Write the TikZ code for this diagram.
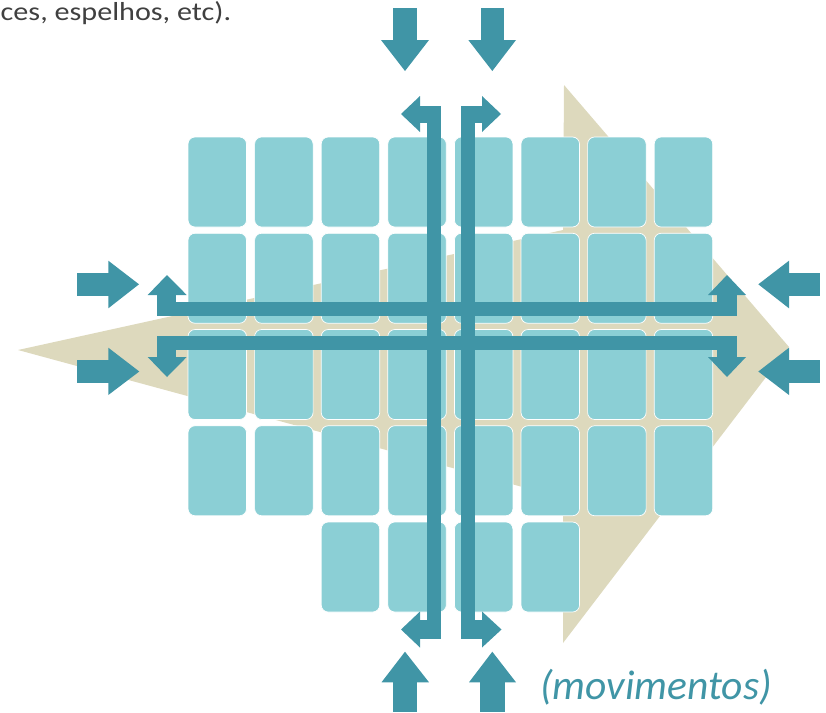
\documentclass[tikz,border=0pt]{standalone}
\usepackage{fontspec}
\setmainfont{Carlito}
\definecolor{beigec}{HTML}{DDD9BD}
\definecolor{tilec}{HTML}{8BCFD5}
\definecolor{barc}{HTML}{4095A6}
\definecolor{txtc}{HTML}{404040}
\begin{document}
\begin{tikzpicture}[x=1pt,y=-1pt,
  tilebox/.style={fill=tilec, draw=white, line width=0.7pt, rounded corners=7pt},
  barshape/.style={fill=barc, draw=none},
  bgarrow/.style={fill=beigec, draw=none}]
\useasboundingbox (0,0) rectangle (826,712);
\clip (0,0) rectangle (826,712);
% background arrow
\fill[bgarrow] (18,350) -- (563,230) -- (564,85) -- (789,347) -- (563,643) -- (563,498) -- cycle;
% tiles
\foreach \i in {0,...,7}{
  \foreach \j in {0,...,3}{
    \path[tilebox] ({188+66.6*\i},{137+96.25*\j}) rectangle ++(58.5,90);
  }
}
\foreach \i in {2,...,5}{
  \path[tilebox] ({188+66.6*\i},522) rectangle ++(58.5,90);
}
% vertical bars with bent ends
\fill[barshape] (427.3,106) rectangle (441,639);
\fill[barshape] (461,106) rectangle (474.7,639);
\fill[barshape] (420,106) rectangle (441,123);
\fill[barshape] (420,96) -- (401,114) -- (420,132) -- cycle;
\fill[barshape] (461,106) rectangle (482,123);
\fill[barshape] (482,96) -- (501,114) -- (482,132) -- cycle;
\fill[barshape] (420,620) rectangle (441,639);
\fill[barshape] (420,611.5) -- (401,629.5) -- (420,647.5) -- cycle;
\fill[barshape] (461,620) rectangle (482,639);
\fill[barshape] (482,611.5) -- (501.5,629.5) -- (482,647.5) -- cycle;
% horizontal bars with bent ends
\fill[barshape] (156.7,302.3) rectangle (736.7,315.7);
\fill[barshape] (156.7,336) rectangle (736.7,350);
\fill[barshape] (156.7,295) rectangle (176,315.7);
\fill[barshape] (147.7,295) -- (167,275) -- (186.7,295) -- cycle;
\fill[barshape] (156.7,336) rectangle (176,357);
\fill[barshape] (147.7,357) -- (167,377) -- (186.7,357) -- cycle;
\fill[barshape] (716.7,295) rectangle (736.7,315.7);
\fill[barshape] (708,295) -- (727,275) -- (746,295) -- cycle;
\fill[barshape] (716.7,336) rectangle (736.7,357);
\fill[barshape] (708,357) -- (727,377) -- (746,357) -- cycle;
% straight arrows, top
\fill[barshape] (393.3,8) rectangle (416.7,40.5);
\fill[barshape] (381,40) -- (405,71) -- (429,40) -- cycle;
\fill[barshape] (480.7,8) rectangle (504.3,40.5);
\fill[barshape] (468.3,40) -- (492.3,71) -- (516,40) -- cycle;
% bottom
\fill[barshape] (392.7,682) rectangle (417.3,712);
\fill[barshape] (381.5,682.3) -- (405,651.7) -- (429,682.3) -- cycle;
\fill[barshape] (480,682) rectangle (505,712);
\fill[barshape] (469,682.3) -- (492.3,651.7) -- (516,682.3) -- cycle;
% left
\fill[barshape] (76.7,272.7) rectangle (108.6,296);
\fill[barshape] (108.3,260.7) -- (139,284.3) -- (108.3,308.3) -- cycle;
\fill[barshape] (77.3,360) rectangle (108.6,383.3);
\fill[barshape] (108.3,347.7) -- (139.3,371.5) -- (108.3,395) -- cycle;
% right
\fill[barshape] (788.7,272.7) rectangle (820,296);
\fill[barshape] (789,260.7) -- (758.3,284.3) -- (789,308.3) -- cycle;
\fill[barshape] (788.7,360) rectangle (820,383.3);
\fill[barshape] (789,347.7) -- (758.3,371.5) -- (789,395) -- cycle;
% texts
\node[anchor=base west, text=txtc, font=\fontsize{26}{29}\selectfont, inner sep=0pt] (toptext) at (0.5,20) {\scalebox{1.16}[1]{ces, espelhos, etc).}};
\node[anchor=base west, text=barc, font=\fontsize{41.5}{44}\selectfont\itshape, inner sep=0pt] (movtext) at (540,699) {(movimentos)};
\end{tikzpicture}
\end{document}
